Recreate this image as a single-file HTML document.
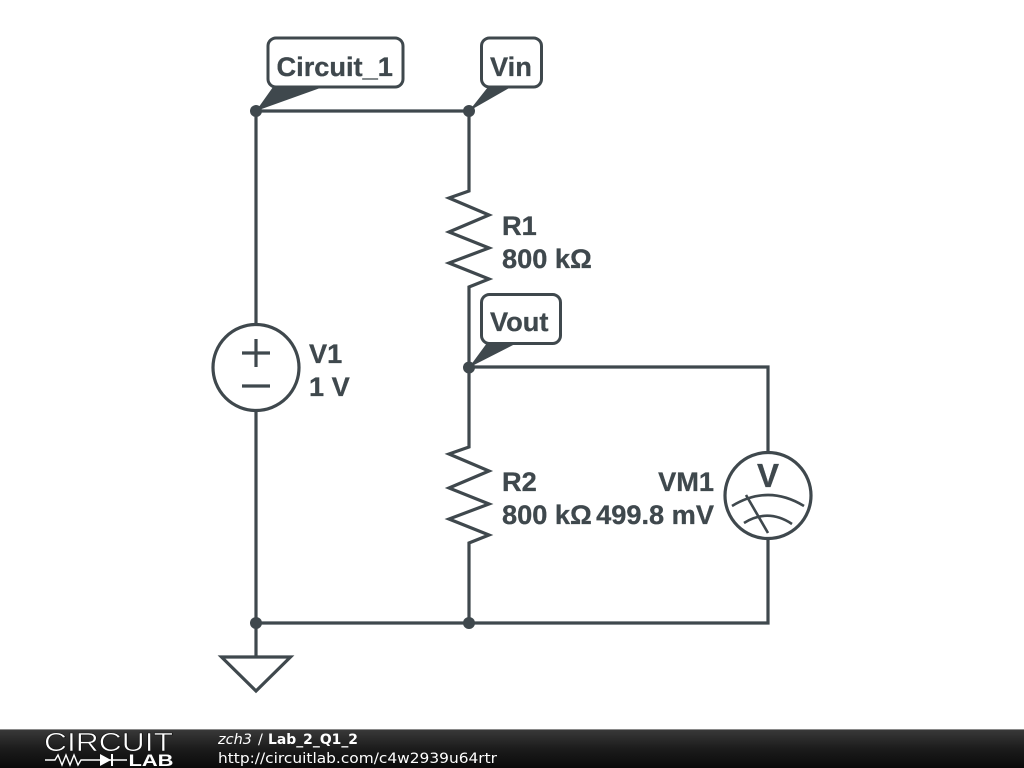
<!DOCTYPE html>
<html>
<head>
<meta charset="utf-8">
<style>
html,body{margin:0;padding:0;background:#fff;width:1024px;height:768px;overflow:hidden}
svg{display:block}
.l{font-family:"Liberation Sans",sans-serif;font-weight:bold;font-size:27.2px;fill:#3f484d;stroke:#3f484d;stroke-width:.3}
.f{font-family:"DejaVu Sans",sans-serif;font-size:14.5px;fill:#fff}
</style>
</head>
<body>
<svg width="1024" height="768" viewBox="0 0 1024 768" xmlns="http://www.w3.org/2000/svg">
<defs>
<linearGradient id="g" x1="0" y1="0" x2="0" y2="1"><stop offset="0" stop-color="#3a3a3a"/><stop offset="0.5" stop-color="#1c1c1c"/><stop offset="1" stop-color="#0a0a0a"/></linearGradient>
</defs>
<g fill="none" stroke="#3f484d" stroke-width="3.2">
<path d="M256 111H469"/>
<path d="M256 111V324M256 411V623"/>
<path d="M469 111V191L449 198L489 215L449 232L489 248L449 263L489 279L469 287V367"/>
<path d="M469 367V447L449 454L489 471L449 488L489 504L449 519L489 535L469 543V623"/>
<path d="M469 367H768V452M768 539V623H256"/>
<path d="M256 623V657"/>
<path d="M221.500 657H290.500L256 691Z"/>
<circle cx="256" cy="367.500" r="43"/>
<path d="M242 353H270M256 339V367M242 386H270"/>
<circle cx="768" cy="495.500" r="43"/>
<path d="M732 506Q768 484 804 506M744 523Q768 508 792 524M746 495L768 533" stroke-width="2.6"/>
</g>
<text x="768" y="487" text-anchor="middle" class="l" style="font-size:33px">V</text>
<g fill="#3f484d">
<circle cx="256" cy="111" r="6"/>
<circle cx="469" cy="111" r="6"/>
<circle cx="469" cy="367.500" r="6"/>
<circle cx="256" cy="623" r="6"/>
<circle cx="469" cy="623" r="6"/>
<path d="M256 111L273 87H323Z"/>
<path d="M469 111L488 87H511Z"/>
<path d="M469 367.500L487 343H517Z"/>
</g>
<g fill="#fff" stroke="#3f484d" stroke-width="3">
<rect x="268" y="38" width="135" height="49" rx="8"/>
<rect x="481.500" y="38" width="60" height="49" rx="8"/>
<rect x="481.500" y="294.500" width="79" height="49" rx="8"/>
</g>
<text x="276.500" y="76" class="l">Circuit_1</text>
<text x="490" y="76" class="l">Vin</text>
<text x="490" y="331" class="l">Vout</text>
<text x="502" y="235" class="l">R1</text>
<text x="502" y="268" class="l">800 kΩ</text>
<text x="502" y="491" class="l">R2</text>
<text x="502" y="524" class="l">800 kΩ</text>
<text x="714" y="491" text-anchor="end" class="l">VM1</text>
<text x="714" y="524" text-anchor="end" class="l">499.8 mV</text>
<text x="309" y="363" class="l">V1</text>
<text x="309" y="396" class="l">1 V</text>
<rect x="0" y="729" width="1024" height="39" fill="url(#g)"/>
<rect x="0" y="729" width="1024" height="1" fill="#8a8a8a"/>
<text x="44" y="751" textLength="129" lengthAdjust="spacingAndGlyphs" style="font-family:'Liberation Sans',sans-serif;font-size:26px;fill:#fff;font-weight:normal;stroke:#111;stroke-width:.6">CIRCUIT</text>
<path d="M45 760H55L58 755L62 765L66 755L70 765L74 755L78 765L81 760H127" fill="none" stroke="#fff" stroke-width="1.400"/>
<path d="M100 754V766L111 760Z" fill="#fff"/>
<path d="M112 754V766" stroke="#fff" stroke-width="2"/>
<text x="128.500" y="766" textLength="45" lengthAdjust="spacingAndGlyphs" style="font-family:'Liberation Sans',sans-serif;font-size:17px;font-weight:bold;fill:#fff">LAB</text>
<text x="218" y="744" class="f" font-style="italic">zch3</text>
<text x="258" y="744" class="f">/</text>
<text x="268" y="744" class="f" font-weight="bold" textLength="90" lengthAdjust="spacingAndGlyphs">Lab_2_Q1_2</text>
<text x="218" y="763" class="f" textLength="279" lengthAdjust="spacingAndGlyphs">http://circuitlab.com/c4w2939u64rtr</text>
</svg>
</body>
</html>
